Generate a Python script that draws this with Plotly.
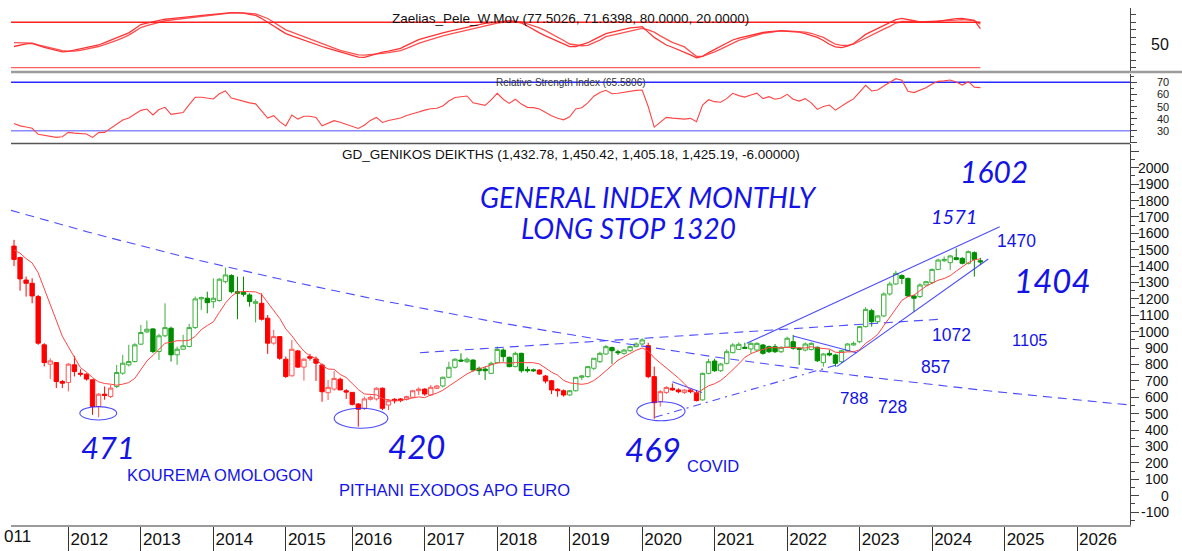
import numpy as np
import pandas as pd
import plotly.graph_objects as go

# ---------------- data ----------------
# Monthly bars of the Athens General Index (market closed in July 2015 -> no bar)
months = [str(p) for p in pd.period_range("2011-04", "2024-09", freq="M") if str(p) != "2015-07"]

opens = [1522,1452,1315,1295,1214,920,802,812,696,690,
         798,747,741,707,544,619,605,666,747,798,
         818,924,999,1017,879,975,1021,859,893,910,
         1025,1200,1204,1183,1190,1305,1342,1244,1240,1224,
         1173,1173,1082,930,970,832,731,883,784,849,
         834,797,628,650,710,640,630,559,533,588,
         590,655,553,588,590,588,600,640,650,614,
         655,669,722,783,827,817,827,777,772,746,
         811,888,844,787,868,770,768,766,730,701,
         649,640,614,640,722,726,777,817,864,903,
         878,868,884,909,925,915,726,573,630,655,
         645,630,644,628,584,746,821,762,807,872,
         892,905,895,888,919,909,909,878,905,939,
         899,888,892,905,811,868,858,817,884,919,
         939,1031,1128,1061,1096,1230,1291,1342,1325,1218,
         1214,1285,1299,1380,1433,1421,1451,1447,1417,1482,
         1432.78]
highs = [1560,1458,1336,1326,1224,930,838,812,706,808,
         853,771,747,707,625,666,676,798,859,920,
         930,1041,1068,1021,987,1173,1031,909,981,1048,
         1214,1214,1244,1325,1326,1391,1350,1336,1336,1234,
         1198,1234,1102,1011,970,849,950,889,838,865,
         849,807,706,760,720,650,630,565,604,610,
         661,661,588,594,595,610,645,661,655,675,
         676,726,817,838,868,843,832,787,787,817,
         909,899,848,878,872,787,775,770,736,706,
         655,648,645,722,736,787,838,878,919,909,
         890,895,915,935,960,933,787,644,668,685,
         655,650,650,644,750,835,835,810,892,930,
         935,933,935,935,925,915,925,910,970,980,
         905,935,935,910,870,890,865,888,930,940,
         1035,1150,1140,1100,1240,1305,1372,1350,1330,1225,
         1295,1310,1385,1445,1458,1468,1508,1455,1495,1490,
         1450.42]
lows = [1400,1250,1214,1173,920,788,711,656,656,636,
        727,727,702,493,478,585,595,656,737,788,
        812,920,991,869,828,966,818,798,889,905,
        1017,1133,1112,1143,1183,1295,1234,1076,1214,1153,
        1056,1068,865,920,828,717,727,778,702,824,
        700,573,583,640,644,590,550,421,522,580,
        580,522,522,563,570,580,595,614,610,610,
        650,660,716,775,817,810,756,736,706,742,
        807,817,783,783,750,750,755,737,685,620,
        604,604,608,635,705,720,765,810,858,803,
        858,860,878,905,920,716,469,543,620,640,
        625,620,625,575,580,740,755,755,800,868,
        888,895,868,880,860,870,870,870,900,890,
        797,880,885,815,787,850,787,810,880,915,
        930,1025,1031,1050,1090,1220,1285,1290,1212,1122,
        1205,1280,1290,1375,1425,1376,1435,1410,1410,1336,
        1405.18]
closes = [1441,1322,1295,1218,930,812,822,696,686,802,
          757,741,711,544,619,611,656,751,808,818,
          920,995,1015,879,975,1025,859,893,914,1025,
          1200,1208,1177,1204,1320,1346,1244,1234,1228,1184,
          1183,1076,930,970,838,727,893,784,832,838,
          808,634,661,715,645,632,557,527,590,600,
          655,533,579,579,580,604,640,650,620,661,
          669,722,783,832,821,832,766,762,762,807,
          892,848,787,868,762,762,762,742,699,645,
          640,614,640,722,730,787,838,868,909,884,
          872,888,909,925,950,726,567,634,660,645,
          634,644,634,580,746,817,762,803,878,919,
          923,899,929,929,868,878,878,905,960,899,
          893,925,929,823,864,858,807,884,925,929,
          1031,1136,1061,1096,1230,1291,1356,1325,1218,1204,
          1285,1305,1380,1437,1441,1462,1441,1417,1488,1441,
          1425.19]
# estimated closes before the first shown bar (seed for the moving average)
prior_closes = [1480, 1560, 1430, 1414, 1580, 1585, 1500]
ma_period = 8

# colour regime of the bars (R = bearish, G = bullish), as runs of bars
regime_runs = [("R", 17), ("G", 24), ("R", 30), ("G", 16), ("R", 5), ("G", 13), ("R", 9), ("G", 47)]

rsi = [36,34,33,32,27,26,25.5,24.5,25,28.6,
       28,27.8,27.3,24.5,28.4,28.6,32,35.5,38.8,40.5,
       43.5,46.8,47.9,43,47.5,49.3,43.5,44,45,51.5,
       57.6,57.6,57,56.2,60.5,62.8,57,55.6,54,53,
       52.2,46,40.5,42.4,37.5,34,43,39.6,42,42,
       41,34.1,36.5,38.3,37,35.5,33.5,31.9,34.5,38.5,
       41,36.8,38.5,39.5,40.5,42.5,44.3,45.5,47,48.2,
       48.5,50.5,54.5,57.4,58.1,58.7,53.1,52,50.9,55.5,
       60.9,56,52.6,56,52,49.3,49.1,48,45,42.3,
       40.3,39,41.5,48,49,53,58.5,61.5,63.4,60.5,
       61,61.8,62.7,63.3,63.6,50,33,37,41,40.4,
       39.8,39.6,40.2,37.5,51.2,55.6,54,53.5,56.5,60.9,
       59,57.8,59.5,61,56.5,58.1,56,57,60,56,
       54.5,56.5,53,47.6,50,51.2,47,50.5,53.5,56.3,
       61.5,67.5,62.8,63.6,67,70,73,71.8,62.5,61.5,
       63.5,65.5,68.5,70.8,71.2,71.9,70.3,67.7,70.5,66,
       65.58]

zp_fast = [48,50,51.5,52,49,47,45,43,41,41.5,
           43,44.5,46,47.5,50,53,56,59.5,63,66,
           71.5,77,79,81,83,84,84.8,85.5,86,87,
           88,88.8,89.7,90.5,91.3,92,92.7,92.5,92,90.5,
           89,85,80.5,75,70,65,62,59,56,53.5,
           51,48,45.5,43,40.5,38,36,34,33.7,36,
           39,40.5,42,44,45.6,49.5,53.5,57,59.5,62,
           64,66,68,70,72,74,75.5,77,78.5,79.5,
           80.5,81.3,82,81,79,75,70,66,62,58.5,
           55,51.5,47.8,48,50,53,57,61,65,67,
           69,71,72.5,73.3,74.2,67,60,55,50,47,
           44,41,37,33,35,40,44,48,52,56.6,
           59,61,63,65,66.5,67.5,68.2,68.5,68,67.6,
           67,65,63,60,56,51,47.5,46.5,48.5,52,
           58,64,68,72,76,79.5,83.5,85.2,84,82,
           80.5,80.5,81,81,82.5,83.9,84.8,85.2,84,82.5,
           71.64]
zp_slow = [53,53,53,52.5,50,48,46,44,42.5,42,
           42,43,44.5,46,48,50.5,53,56,59.5,63,
           68,73,75.5,78,80.5,82,83,84,85,86,
           87,88,89,90,90.8,91.7,92.5,92.7,92.5,91.8,
           91,88,85,80,75,70,67,64,61,58,
           55,52,48.5,45.5,43,41,39,37,36.5,37,
           38,39,40,41.3,42.5,45.5,49,52,54.8,57.5,
           60,62,64,66,68,70,72,74,76,77.7,
           79,80,80.8,81,80.5,78,75,72.5,69,65,
           61,56,51.3,50,49,49.5,52.5,56.5,61,63,
           65,66.5,68,70,72,70,67,62,57.4,53.5,
           50.5,47.5,41,35,35,37.5,41,44.5,48.5,53,
           56,58.5,61,63.5,65.5,66.5,67.5,68.9,68.5,68,
           67.5,67,65.5,63,60,55.5,51,49.5,49.5,51,
           55,60,64,67.5,71,74.5,79,81,81.5,81,
           80.5,80.8,81,81,81.5,82,82.8,83.5,83,82.1,
           77.50]
zp_levels = [80, 20]
rsi_levels = [70, 30]

year_labels = [str(y) for y in range(2012, 2027)]
main_tick_values = list(range(-100, 2001, 100))
rsi_tick_values = [30, 40, 50, 60, 70]
zp_tick_values = [50]

# hand-drawn trend lines: (bar index, value) anchors, style; "log" = straight on a log scale
trend_lines = [
    dict(p0=(-0.5, 1740), p1=(184.8, 553), dash="9px,6px", log=True),
    dict(p0=(67.2, 872), p1=(153.3, 1076), dash="9px,6px", log=False),
    dict(p0=(106.1, 478), p1=(136.75, 803), dash="8px,5px,2px,5px", log=False),
    dict(p0=(109.0, 695), p1=(113.9, 629), dash="solid", log=False),
    dict(p0=(129.0, 974), p1=(139.5, 872), dash="solid", log=False),
    dict(p0=(121.3, 929), p1=(163.2, 1640), dash="solid", log=False),
    dict(p0=(136.2, 787), p1=(161.3, 1443), dash="solid", log=False),
]
# circled lows: (bar index left, right, value low, high)
ellipses = [(10.9, 17.0, 462, 543), (53.0, 61.9, 411, 533), (103.1, 111.1, 457, 573)]

# ---------------- helpers ----------------
n = len(months)
x = np.arange(n)

def bar_pos(period_str):
    if period_str in months:
        return months.index(period_str)
    last = pd.Period(months[-1], "M")
    return n - 1 + (pd.Period(period_str, "M") - last).n

year_ticks = [bar_pos(f"{y}-01") for y in range(2012, 2027)]

regime = []
for r, cnt in regime_runs:
    regime += [r] * cnt

ma = pd.Series(prior_closes + closes, dtype=float).rolling(ma_period).mean().iloc[len(prior_closes):].values

BLUE = "#1414E6"
LINE_BLUE = "rgba(45,45,255,0.85)"
FONT = "Liberation Sans, Arial, sans-serif"
HAND = "Lato, DejaVu Sans, sans-serif"

fig = go.Figure()

# ---- top panel: Zaelias oscillator
fig.add_trace(go.Scatter(x=x, y=zp_slow, mode="lines", line=dict(color="#FF5050", width=1.3),
                         xaxis="x3", yaxis="y3", hoverinfo="skip"))
fig.add_trace(go.Scatter(x=x, y=zp_fast, mode="lines", line=dict(color="#FF3333", width=1.3),
                         xaxis="x3", yaxis="y3", hoverinfo="skip"))
for lv, col in zip(zp_levels, ["#FF2020", "#FF6060"]):
    fig.add_trace(go.Scatter(x=[-0.5, n - 1], y=[lv, lv], mode="lines",
                             line=dict(color=col, width=1.3), xaxis="x3", yaxis="y3", hoverinfo="skip"))

# ---- RSI panel
for lv, col in zip(rsi_levels, ["#2A2AFF", "#8A8AFF"]):
    fig.add_trace(go.Scatter(x=[-0.5, 184.8], y=[lv, lv], mode="lines",
                             line=dict(color=col, width=1.4), xaxis="x2", yaxis="y2", hoverinfo="skip"))
fig.add_trace(go.Scatter(x=x, y=rsi, mode="lines", line=dict(color="#FF4545", width=1.1),
                         xaxis="x2", yaxis="y2", hoverinfo="skip"))

# ---- main panel
for tl in trend_lines:
    (x0, v0), (x1, v1) = tl["p0"], tl["p1"]
    if tl["log"]:
        xs = np.linspace(x0, x1, 60)
        vs = np.exp(np.interp(xs, [x0, x1], [np.log(v0), np.log(v1)]))
    else:
        xs, vs = [x0, x1], [v0, v1]
    fig.add_trace(go.Scatter(x=xs, y=vs, mode="lines",
                             line=dict(color=LINE_BLUE, width=1.1, dash=tl["dash"]),
                             xaxis="x", yaxis="y", hoverinfo="skip"))

styles = {
    "R": dict(up="#FF5555", down="#FF0000"),
    "G": dict(up="#3DB03D", down="#008C00"),
}
for key, st in styles.items():
    idx = [i for i in range(n) if regime[i] == key]
    fig.add_trace(go.Candlestick(
        x=x[idx], open=[opens[i] for i in idx], high=[highs[i] for i in idx],
        low=[lows[i] for i in idx], close=[closes[i] for i in idx],
        increasing=dict(line=dict(color=st["up"], width=1), fillcolor="white"),
        decreasing=dict(line=dict(color=st["down"], width=1), fillcolor=st["down"]),
        whiskerwidth=0, xaxis="x", yaxis="y", hoverinfo="skip"))

fig.add_trace(go.Scatter(x=x, y=ma, mode="lines", line=dict(color="#FF4444", width=1),
                         xaxis="x", yaxis="y", hoverinfo="skip"))

shapes = []
for (a, b, lo, hi) in ellipses:
    shapes.append(dict(type="circle", xref="x", yref="y", x0=a, x1=b, y0=lo, y1=hi,
                       line=dict(color=LINE_BLUE, width=1.1)))
# panel separators
shapes.append(dict(type="line", xref="paper", yref="paper", x0=0, x1=1.047, y0=0.8629, y1=0.8629,
                   line=dict(color="#9C9C9C", width=2.5)))
shapes.append(dict(type="line", xref="paper", yref="paper", x0=0, x1=1.0, y0=0.7267, y1=0.7267,
                   line=dict(color="#555555", width=1.5)))

ann = []
def txt(t, xx, yy, size, color=BLUE, family=FONT, italic=False, weight=None, xref="x", yref="y",
        xanchor="center"):
    f = dict(family=family, size=size, color=color)
    if italic:
        f["style"] = "italic"
    if weight:
        f["weight"] = weight
    ann.append(dict(text=t, x=xx, y=yy, xref=xref, yref=yref, showarrow=False, font=f,
                    xanchor=xanchor, yanchor="middle"))

# titles
txt("Zaelias_Pele_W.Mov (77.5026, 71.6398, 80.0000, 20.0000)", 0.5, 0.965, 13.5, "#111111",
    xref="paper", yref="paper")
txt("Relative Strength Index (65.5806)", 0.5, 0.843, 10, "#333333", xref="paper", yref="paper")
txt("GD_GENIKOS DEIKTHS (1,432.78, 1,450.42, 1,405.18, 1,425.19, -6.00000)", 0.5, 0.7048, 13.5,
    "#111111", xref="paper", yref="paper")

# hand written notes
txt("GENERAL INDEX MONTHLY", 105.1, 1823, 28, family=HAND, italic=True, weight=400)
txt("LONG STOP 1320", 101.7, 1630, 28, family=HAND, italic=True, weight=400)
txt("1602", 162.3, 1980, 30, family=HAND, italic=True, weight=400)
txt("1571", 155.6, 1705, 20, family=HAND, italic=True, weight=400)
txt("1404", 172.0, 1315, 33, family=HAND, italic=True, weight=400)
txt("471", 15.6, 297, 31, family=HAND, italic=True, weight=400)
txt("420", 66.7, 303, 33, family=HAND, italic=True, weight=400)
txt("469", 105.8, 285, 33, family=HAND, italic=True, weight=400)
txt("1470", 165.9, 1553, 17.5)
txt("1072", 155.2, 980, 17.5)
txt("1105", 168.2, 949, 16.5)
txt("857", 152.5, 785, 17.5)
txt("788", 139.0, 590, 17)
txt("728", 145.5, 541, 17.5)
txt("KOUREMA OMOLOGON", 34.1, 126, 16.5)
txt("PITHANI EXODOS APO EURO", 73.0, 35, 16.5)
txt("COVID", 115.7, 181, 16.5)

# right-aligned axis labels
LAB_X = 1.0366
for v in main_tick_values:
    txt(str(v), LAB_X, v, 14, "#111111", xref="paper", yref="y", xanchor="right")
for v in rsi_tick_values:
    txt(str(v), LAB_X, v, 11, "#222222", xref="paper", yref="y2", xanchor="right")
for v in zp_tick_values:
    txt(str(v), LAB_X, v, 16, "#111111", xref="paper", yref="y3", xanchor="right")
# first (clipped) year label
txt("011", 0.0197, -0.0225, 17, "#111111", xref="paper", yref="paper", xanchor="right")

xr = [-0.5, 184.77]
axis_common = dict(showgrid=False, zeroline=False)
fig.update_layout(
    width=1182, height=551, margin=dict(l=11, r=52, t=0, b=26),
    paper_bgcolor="white", plot_bgcolor="white", showlegend=False,
    boxgap=0.15, boxgroupgap=0.15,
    shapes=shapes, annotations=ann,
    xaxis=dict(domain=[0, 1], anchor="y", range=xr, tickmode="array", tickvals=year_ticks,
               ticktext=year_labels, ticks="outside", ticklen=26, tickwidth=1, tickcolor="#333333",
               showline=True, linecolor="#9A9A9A", linewidth=2,
               tickfont=dict(family=FONT, size=17, color="#111111"),
               ticklabelshift=21, ticklabelstandoff=-28,
               rangeslider=dict(visible=False), **axis_common),
    xaxis2=dict(domain=[0, 1], anchor="y2", matches="x", range=xr, showticklabels=False, ticks="",
                **axis_common),
    xaxis3=dict(domain=[0, 1], anchor="y3", matches="x", range=xr, showticklabels=False, ticks="",
                **axis_common),
    yaxis=dict(domain=[0, 0.7257], anchor="x", side="right", range=[-178.7, 2144.5],
               tick0=0, dtick=100, ticks="outside", ticklen=8, tickcolor="#444444",
               minor=dict(tick0=0, dtick=50, ticks="outside", ticklen=4, tickcolor="#444444"),
               showticklabels=False, showline=True, linecolor="#444444", linewidth=1, **axis_common),
    yaxis2=dict(domain=[0.7276, 0.86], anchor="x2", side="right", range=[19.83, 77.27],
                tick0=0, dtick=10, ticks="outside", ticklen=6, tickcolor="#444444",
                minor=dict(tick0=0, dtick=5, ticks="outside", ticklen=3, tickcolor="#444444"),
                showticklabels=False, showline=True, linecolor="#444444", linewidth=1, **axis_common),
    yaxis3=dict(domain=[0.8638, 0.985], anchor="x3", side="right", range=[15.0, 99.0],
                tick0=0, dtick=10, ticks="outside", ticklen=5, tickcolor="#444444",
                showticklabels=False, showline=True, linecolor="#444444", linewidth=1, **axis_common),
)

fig.write_html("out.html", config={"displayModeBar": False, "staticPlot": True},
               post_script="document.body.style.margin='0px';document.body.style.overflow='hidden';")
